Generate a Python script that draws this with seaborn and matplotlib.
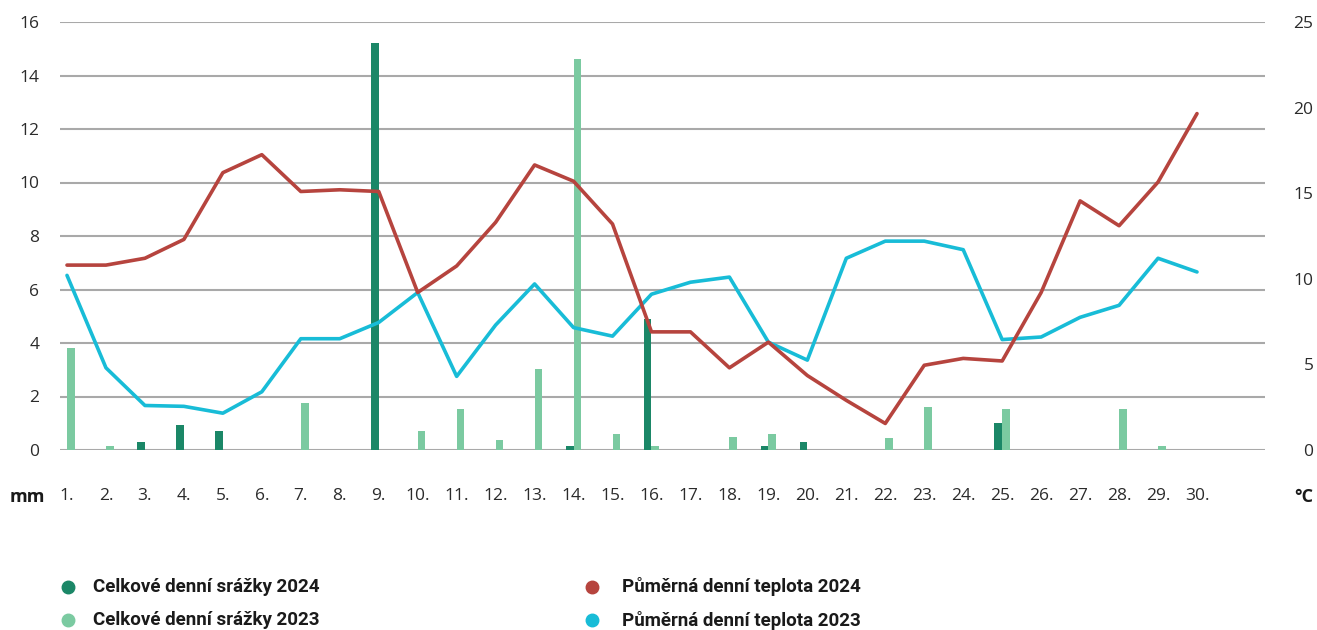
import numpy as np
import pandas as pd
import matplotlib
matplotlib.use("Agg")
import matplotlib.pyplot as plt
import seaborn as sns
from matplotlib.lines import Line2D

# data
days = list(range(1, 31))
day_labels = [f"{d}." for d in days]

rain_2024 = [0, 0, 0.3, 0.92, 0.71, 0, 0, 0, 15.2, 0,
             0, 0, 0, 0.15, 0, 4.9, 0, 0, 0.15, 0.29,
             0, 0, 0, 0, 1.0, 0, 0, 0, 0, 0]
rain_2023 = [3.8, 0.15, 0, 0, 0, 0, 1.75, 0, 0, 0.7,
             1.52, 0.36, 3.02, 14.63, 0.6, 0.15, 0, 0.47, 0.6, 0,
             0, 0.46, 1.62, 0, 1.53, 0, 0, 1.53, 0.15, 0]
temp_2024 = [10.8, 10.8, 11.2, 12.3, 16.2, 17.25, 15.1, 15.2, 15.1, 9.2,
             10.75, 13.3, 16.65, 15.7, 13.2, 6.9, 6.9, 4.8, 6.3, 4.35,
             2.9, 1.55, 4.95, 5.35, 5.2, 9.2, 14.55, 13.1, 15.65, 19.65]
temp_2023 = [10.2, 4.8, 2.6, 2.55, 2.15, 3.4, 6.5, 6.5, 7.45, 9.2,
             4.3, 7.3, 9.7, 7.15, 6.65, 9.1, 9.8, 10.1, 6.3, 5.25,
             11.2, 12.2, 12.2, 11.7, 6.45, 6.6, 7.75, 8.45, 11.2, 10.4]

years = ["2024", "2023"]
rain_labels = ["Celkové denní srážky 2024", "Celkové denní srážky 2023"]
temp_labels = ["Půměrná denní teplota 2024", "Půměrná denní teplota 2023"]

c_dark = "#1b8767"
c_light = "#7bcaa1"
c_red = "#b6443e"
c_cyan = "#18bcd7"
grid_c = "#a9a9a9"
txt_c = "#2b2b2b"

sns.set_theme(style="white")
plt.rcParams["font.family"] = ["Open Sans", "DejaVu Sans"]

rain = pd.DataFrame({
    "day": days * 2,
    "mm": rain_2024 + rain_2023,
    "year": ["2024"] * 30 + ["2023"] * 30,
})

fig = plt.figure(figsize=(13.17, 6.30), dpi=100)
ax = fig.add_axes([60 / 1317, 1 - 450 / 630, 1205 / 1317, 428 / 630])

sns.barplot(data=rain, x="day", y="mm", hue="year", hue_order=years,
            palette=[c_dark, c_light], saturation=1, native_scale=True,
            width=0.4, dodge=True, errorbar=None, linewidth=0,
            legend=False, ax=ax)

x0 = 1 - 7 / 38.97
x1 = 30 + 68 / 38.97
ax.set_xlim(x0, x1)
ax.set_ylim(0, 16)
ax.set_yticks(range(0, 17, 2))
ax.yaxis.grid(True, color=grid_c, lw=1.5)
ax.set_axisbelow(True)
for s in ax.spines.values():
    s.set_visible(False)
ax.set_xticks(days)
ax.set_xticklabels(day_labels)
ax.tick_params(axis="x", length=0, pad=27, labelsize=12.5, labelcolor=txt_c)
ax.tick_params(axis="y", length=0, pad=15, labelsize=12.5, labelcolor=txt_c)
ax.set_xlabel("")
ax.set_ylabel("")

ax2 = ax.twinx()
sns.lineplot(x=days, y=temp_2023, color=c_cyan, lw=2.6, ax=ax2)
sns.lineplot(x=days, y=temp_2024, color=c_red, lw=2.6, ax=ax2)
ax2.set_ylim(0, 25)
ax2.set_xlim(x0, x1)
ax2.set_yticks(range(0, 26, 5))
ax2.tick_params(axis="y", length=0, pad=35, labelsize=12.5, labelcolor=txt_c)
for lbl in ax2.get_yticklabels():
    lbl.set_horizontalalignment("right")
for s in ax2.spines.values():
    s.set_visible(False)
ax2.grid(False)
ax2.set_ylabel("")

fig.text(45 / 1317, 1 - 497 / 630, "mm", ha="right", va="center",
         fontsize=13, fontweight="bold", color="#1a1a1a")
fig.text(1313 / 1317, 1 - 497 / 630, "°C", ha="right", va="center",
         fontsize=13, fontweight="bold", color="#1a1a1a")

# legend, two columns
entries = [
    (68, 93, 587, c_dark, rain_labels[0]),
    (68, 93, 620, c_light, rain_labels[1]),
    (592, 622, 587, c_red, temp_labels[0]),
    (592, 622, 620, c_cyan, temp_labels[1]),
]
for mx, tx, y, col, label in entries:
    fig.add_artist(Line2D([mx / 1317], [1 - y / 630], transform=fig.transFigure,
                          marker="o", markersize=9, color=col, lw=0))
    fig.text(tx / 1317, 1 - y / 630, label, ha="left", va="center",
             fontsize=13.5, fontweight="bold", color="#1a1a1a",
             family=["Roboto", "DejaVu Sans"])

fig.savefig("out.png", dpi=100)
